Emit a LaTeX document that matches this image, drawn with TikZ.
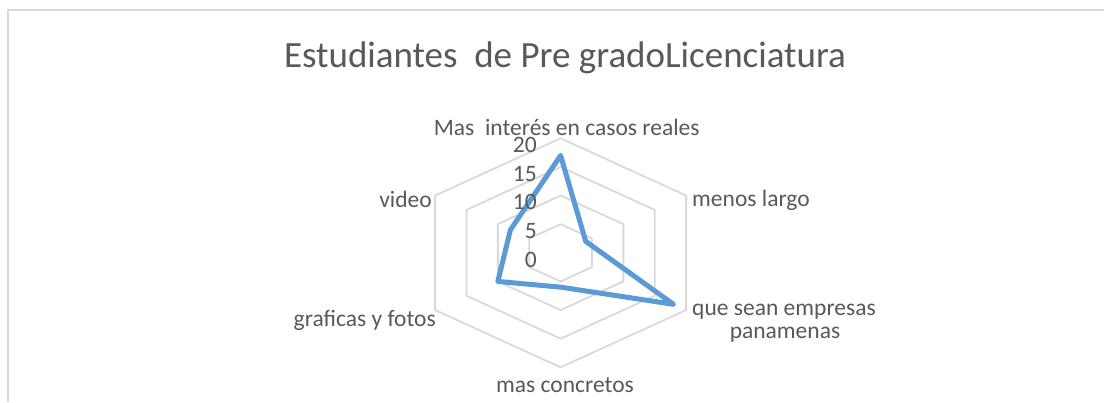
\documentclass[tikz,border=0pt]{standalone}
\usepackage{fontspec}
\setmainfont{Carlito}
\definecolor{gridgray}{HTML}{D9D9D9}
\definecolor{txtgray}{HTML}{595959}
\definecolor{serieblue}{HTML}{5B9BD5}
\begin{document}
\begin{tikzpicture}[x=1bp,y=-1bp,
  lbl/.style={text=txtgray,font=\fontsize{23.5bp}{28bp}\selectfont,inner sep=0pt},
  ttl/.style={text=txtgray,font=\fontsize{37bp}{44bp}\selectfont,inner sep=0pt},
  gridline/.style={draw=gridgray,line width=1.8bp,line join=round},
  frameline/.style={draw=gridgray,line width=1.5bp},
  series/.style={draw=serieblue,line width=5bp,line join=round,line cap=round}]
\useasboundingbox (0,0) rectangle (1104,402);
\fill[white] (0,0) rectangle (1104,402);
\coordinate (f1) at (8,402);
\coordinate (f2) at (8,10);
\coordinate (f3) at (1104,10);
\draw[frameline] (f1) -- (f2) -- (f3);
\node[ttl,anchor=base] (title) at (565,67.3) {Estudiantes\ \ de Pre gradoLicenciatura};
\begin{scope}[shift={(560.6,252.8)},x=6.275bp,y=5.725bp]
  \foreach \l in {5,10,15,20}{
    \draw[gridline] (0,\l) -- (\l,\l/2) -- (\l,-\l/2) -- (0,-\l) -- (-\l,-\l/2) -- (-\l,\l/2) -- cycle;
  }
  \coordinate (d1) at (0,17);
  \coordinate (d2) at (4,2);
  \coordinate (d3) at (18,-9);
  \coordinate (d4) at (0,-6);
  \coordinate (d5) at (-10,-5);
  \coordinate (d6) at (-8,4);
  \draw[series] (d1) -- (d2) -- (d3) -- (d4) -- (d5) -- (d6) -- cycle;
\end{scope}
\node[lbl,anchor=base east] (t20) at (537,152.5) {20};
\node[lbl,anchor=base east] (t15) at (537,181.1) {15};
\node[lbl,anchor=base east] (t10) at (537,209.8) {10};
\node[lbl,anchor=base east] (t5) at (537,238.4) {5};
\node[lbl,anchor=base east] (t0) at (537,267.0) {0};
\node[lbl,anchor=base] (a1) at (566.7,135) {Mas\ \ interés en casos reales};
\node[lbl,anchor=base west] (a2) at (692,206.7) {menos largo};
\node[lbl,anchor=base west] (a3) at (692,315.7) {que sean empresas};
\node[lbl,anchor=base] (a3b) at (785,338) {panamenas};
\node[lbl,anchor=base] (a4) at (565,392.7) {mas concretos};
\node[lbl,anchor=base east] (a5) at (436,326) {graficas y fotos};
\node[lbl,anchor=base east] (a6) at (432,207.3) {video};
\end{tikzpicture}
\end{document}
